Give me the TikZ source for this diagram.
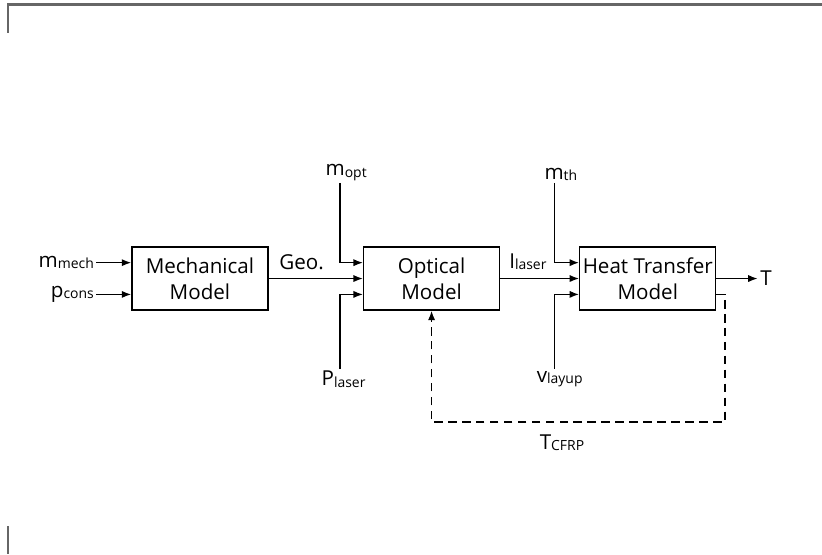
\documentclass[tikz,border=0pt]{standalone}
\usepackage{fontspec}
\setmainfont{Open Sans}
\usetikzlibrary{positioning,arrows.meta}
\newcommand{\lowidx}[1]{\raisebox{-0.12ex}{\fontsize{10.5}{10.5}\selectfont #1}}
\tikzset{
  model/.style={draw,line width=1pt,align=center,minimum width=3.6cm,minimum height=1.67cm,inner sep=1pt},
  lbl/.style={inner sep=1.5pt},
  conn/.style={line width=1pt,->},
  fback/.style={line width=1pt,->,dash pattern=on 6.5pt off 4pt},
  frame/.style={line width=1.6pt,black!60}
}
\begin{document}
\begin{tikzpicture}[x=1cm,y=1cm,>={Latex[length=2.5mm,width=1.9mm]},font=\fontsize{15.5pt}{19.5pt}\selectfont]
\useasboundingbox (0,0) rectangle (21.75,-14.66);
% frame corners
\draw[frame] (0.21,-0.87) |- (21.75,-0.12);
\draw[frame] (0.21,-13.92) -- (0.21,-14.66);
% blocks
\node[model] (mech) at (5.29,-7.37) {Mechanical\\Model};
\node[model] (opt) at (11.42,-7.37) {Optical\\Model};
\node[model] (heat) at (17.14,-7.37) {Heat Transfer\\Model};
% inputs of the mechanical model
\node[lbl,left=0.93cm of mech.west,yshift=0.42cm] (mmech) {m\lowidx{mech}};
\node[lbl,left=0.93cm of mech.west,yshift=-0.42cm] (pcons) {p\lowidx{cons}};
\draw[conn] (mmech.east) -- (mmech.east -| mech.west);
\draw[conn] (pcons.east) -- (pcons.east -| mech.west);
% inputs of the optical model
\node[lbl,anchor=south] (mopt) at (9.16,-4.84) {m\lowidx{opt}};
\node[lbl,anchor=north] (plaser) at (9.09,-9.76) {P\lowidx{laser}};
\draw[conn] ([xshift=-0.16cm]mopt.south) |- ([yshift=0.42cm]opt.west);
\draw[conn] (mech.east) -- node[pos=0.35,above=3pt] (geo) {Geo.} (opt.west);
\draw[conn] ([xshift=-0.09cm]plaser.north) |- ([yshift=-0.42cm]opt.west);
% inputs of the heat transfer model
\node[lbl,anchor=south] (mth) at (14.84,-4.84) {m\lowidx{th}};
\node[lbl,anchor=north] (vlayup) at (14.81,-9.76) {v\lowidx{layup}};
\draw[conn] ([xshift=-0.16cm]mth.south) |- ([yshift=0.42cm]heat.west);
\draw[conn] (opt.east) -- node[pos=0.35,above=3pt] (ilaser) {I\lowidx{laser}} (heat.west);
\draw[conn] ([xshift=-0.13cm]vlayup.north) |- ([yshift=-0.42cm]heat.west);
% output and feedback
\draw[conn] (heat.east) -- ++(1.09,0) node[right,inner sep=1.5pt] (tout) {T};
\coordinate (fb) at (19.18,-11.17);
\draw[fback] ([yshift=-0.42cm]heat.east) -| (fb) -| (opt.south);
\node[lbl] (tcfrp) at (14.87,-11.72) {T\lowidx{CFRP}};
\end{tikzpicture}
\end{document}
